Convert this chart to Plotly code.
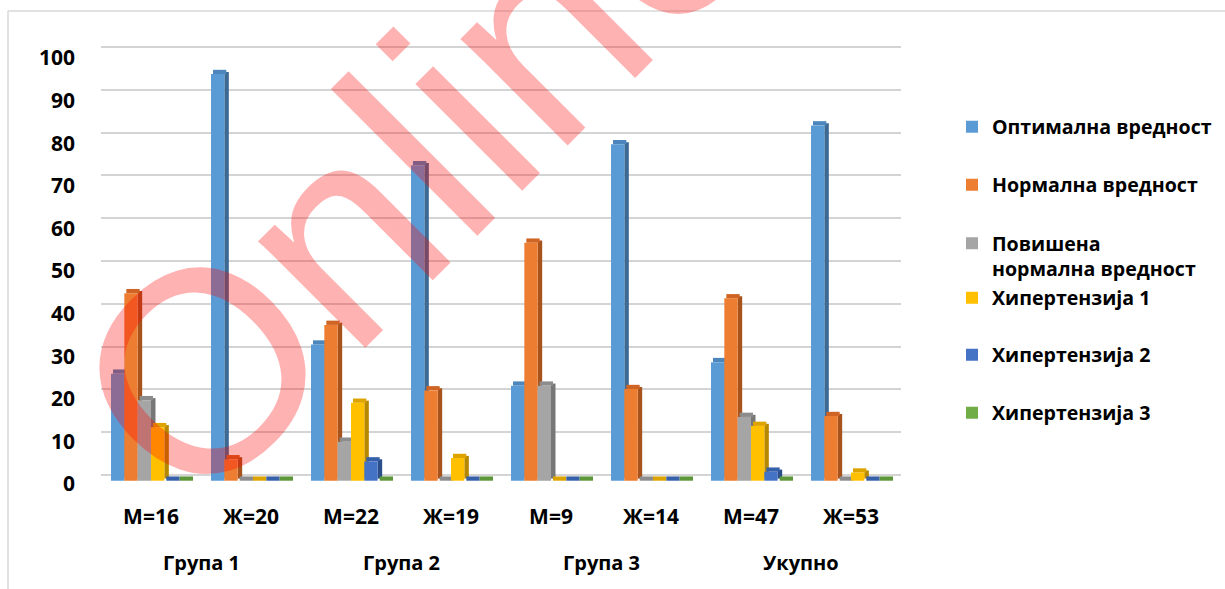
import plotly.graph_objects as go

categories = ["М=16", "Ж=20", "М=22", "Ж=19", "М=9", "Ж=14", "М=47", "Ж=53"]
groups = ["Група 1", "Група 2", "Група 3", "Укупно"]

series_names = [
    "Оптимална вредност",
    "Нормална вредност",
    "Повишена<br>нормална вредност",
    "Хипертензија 1",
    "Хипертензија 2",
    "Хипертензија 3",
]
optimal = [25.0, 95.0, 31.8, 73.7, 22.2, 78.6, 27.7, 83.0]
normal = [43.8, 5.0, 36.4, 21.1, 55.6, 21.4, 42.6, 15.1]
elevated = [18.8, 0, 9.1, 0, 22.2, 0, 14.9, 0]
hypertension1 = [12.5, 0, 18.2, 5.3, 0, 0, 12.8, 1.9]
hypertension2 = [0, 0, 4.5, 0, 0, 0, 2.1, 0]
hypertension3 = [0, 0, 0, 0, 0, 0, 0, 0]
series_values = [optimal, normal, elevated, hypertension1, hypertension2, hypertension3]

front_colors = ["#5B9BD5", "#ED7D31", "#A5A5A5", "#FFC000", "#4472C4", "#70AD47"]
top_colors = ["#4C86BC", "#CF6424", "#8C8C8C", "#DDA400", "#3760AA", "#5E973A"]
side_colors = ["#3D6A94", "#A8531C", "#777777", "#B58800", "#2B4D8A", "#4B7A2E"]

y_ticks = [0, 10, 20, 30, 40, 50, 60, 70, 80, 90, 100]

W, H = 1225, 589
ML, MR, MT, MB = 101, 324, 44, 99
PW, PH = W - ML - MR, H - MT - MB


def px_x(x):
    return (x - ML) / PW


def px_y(y):
    return (H - MB - y) / PH


FONT = "Open Sans"
FW = 0.8 / 6          # front face width (category units)
SIDE_W = 0.045        # depth of the side face
TOP_SHIFT = 0.02      # oblique shift of the top face
TOP_DEPTH = 1.0       # thickness of the top face (value units)
SIDE_BASE = 0.5

fig = go.Figure()
# side faces (drawn first, behind)
for i, (vals, col) in enumerate(zip(series_values, side_colors)):
    fig.add_trace(go.Bar(x=categories, y=vals, base=SIDE_BASE,
                         offset=-0.4 + (i + 1) * FW, width=SIDE_W,
                         marker=dict(color=col, line=dict(width=0)),
                         showlegend=False, hoverinfo="skip"))
# top faces
for i, (vals, col) in enumerate(zip(series_values, top_colors)):
    fig.add_trace(go.Bar(x=categories, y=[TOP_DEPTH] * len(vals), base=vals,
                         offset=-0.4 + i * FW + TOP_SHIFT, width=FW,
                         marker=dict(color=col, line=dict(width=0)),
                         showlegend=False, hoverinfo="skip"))
# front faces
legend_ids = ["legend", "legend2", "legend3", "legend4", "legend5", "legend6"]
for i, (name, vals, col, lid) in enumerate(zip(series_names, series_values,
                                               front_colors, legend_ids)):
    fig.add_trace(go.Bar(x=categories, y=vals, name=name,
                         offset=-0.4 + i * FW, width=FW,
                         marker=dict(color=col, line=dict(width=0)),
                         legend=lid))

# empty helper traces so the back-wall grid axis and label axis are rendered
fig.add_trace(go.Scatter(x=categories, y=[None] * len(categories), yaxis="y2",
                         showlegend=False, hoverinfo="skip", mode="lines"))
fig.add_trace(go.Scatter(x=categories, y=[None] * len(categories), yaxis="y3",
                         showlegend=False, hoverinfo="skip", mode="lines"))

legend_y_px = [127, 185, 256, 298, 355, 413]
legend_layout = {}
for i, (lid, ly) in enumerate(zip(legend_ids, legend_y_px)):
    legend_layout[lid] = dict(
        x=px_x(952), y=px_y(ly), xanchor="left", yanchor="middle",
        bgcolor="rgba(0,0,0,0)", borderwidth=0,
        font=dict(family=FONT, size=19.6, color="black", weight="bold"),
        valign="top" if i == 2 else "middle",
    )

annotations = []
for gi, g in enumerate(groups):
    annotations.append(dict(
        x=2 * gi + 0.5, y=px_y(562), xref="x", yref="paper", text=g,
        showarrow=False, xanchor="center", yanchor="middle",
        font=dict(family=FONT, size=20, color="black", weight="bold"),
    ))

# watermark
annotations.append(dict(
    x=px_x(416), y=px_y(157), xref="paper", yref="paper", text="Online",
    showarrow=False, xanchor="center", yanchor="middle", textangle=-45,
    font=dict(family="Liberation Sans", size=286, color="rgba(255,0,0,0.3)"),
))

shapes = [
    dict(type="line", xref="paper", yref="paper", x0=px_x(8), x1=px_x(1230),
         y0=px_y(11), y1=px_y(11), line=dict(color="#D9D9D9", width=1.5)),
    dict(type="line", xref="paper", yref="paper", x0=px_x(8), x1=px_x(8),
         y0=px_y(11), y1=px_y(600), line=dict(color="#D9D9D9", width=1.5)),
]

fig.update_layout(
    template="none",
    width=W, height=H,
    margin=dict(l=ML, r=MR, t=MT, b=MB, pad=0, autoexpand=False),
    paper_bgcolor="white", plot_bgcolor="rgba(0,0,0,0)",
    barmode="overlay",
    xaxis=dict(type="category", range=[-0.5, 7.5], showgrid=False, zeroline=False,
               showline=False, ticks="", automargin=False, ticklabelstandoff=12,
               tickfont=dict(family=FONT, size=21, color="black", weight="bold")),
    # bars axis (front baseline)
    yaxis=dict(range=[-2.17, 102.03], showgrid=False, zeroline=False,
               showline=False, ticks="", showticklabels=False, automargin=False),
    # back-wall gridlines
    yaxis2=dict(overlaying="y", range=[-3.50, 100.70], tickvals=y_ticks,
                showgrid=True, gridcolor="#D4D4D4", gridwidth=1.5,
                showticklabels=False, zeroline=False, showline=False, ticks="",
                automargin=False),
    # tick labels (front edge)
    yaxis3=dict(overlaying="y", side="left", range=[-1.41, 103.29],
                tickvals=y_ticks, showgrid=False, zeroline=False, showline=False,
                ticks="", automargin=False, ticklabelstandoff=25,
                tickfont=dict(family=FONT, size=21, color="black", weight="bold")),
    annotations=annotations,
    shapes=shapes,
    showlegend=True,
    **legend_layout,
)

fig.write_html("out.html")
